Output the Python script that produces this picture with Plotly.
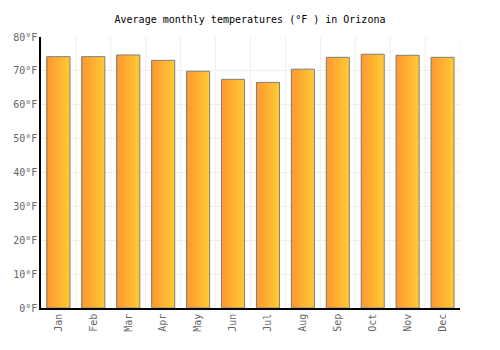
import plotly.graph_objects as go

months = ["Jan", "Feb", "Mar", "Apr", "May", "Jun", "Jul", "Aug", "Sep", "Oct", "Nov", "Dec"]
temps_f = [74.2, 74.2, 74.7, 73.1, 69.9, 67.5, 66.6, 70.5, 74.0, 74.9, 74.6, 74.0]
y_ticks = [0, 10, 20, 30, 40, 50, 60, 70, 80]
y_tick_labels = [f"{t}°F" for t in y_ticks]

bar_w = 0.66
n_slices = 16
c0 = (255, 152, 50)
c1 = (255, 200, 50)

fig = go.Figure()
x_idx = list(range(len(months)))
for i in range(n_slices):
    t = i / (n_slices - 1)
    col = "rgb({},{},{})".format(*[round(a + (b - a) * t) for a, b in zip(c0, c1)])
    fig.add_trace(go.Bar(
        x=x_idx, y=temps_f, width=bar_w / n_slices * 1.05,
        offset=-bar_w / 2 + i * bar_w / n_slices,
        marker=dict(color=col, line=dict(width=0)),
        hoverinfo="skip", showlegend=False,
    ))
fig.add_trace(go.Bar(
    x=x_idx, y=temps_f, width=bar_w, offset=-bar_w / 2,
    marker=dict(color="rgba(0,0,0,0)", line=dict(color="#808080", width=1)),
    showlegend=False, name="Temperature",
))

fig.update_layout(
    width=500, height=350,
    margin=dict(l=41, r=40, t=37, b=42),
    paper_bgcolor="white", plot_bgcolor="white",
    barmode="overlay",
    title=dict(text="Average monthly temperatures (°F ) in Orizona",
               x=0.5, xanchor="center", y=0.944, yanchor="middle",
               font=dict(family="DejaVu Sans Mono", size=10, color="black")),
    font=dict(family="DejaVu Sans Mono", size=10, color="#666666"),
)
fig.update_xaxes(
    range=[-0.5, 11.5], tickmode="array", tickvals=x_idx, ticktext=months,
    tickangle=-90, showgrid=False, showline=True, linecolor="black", linewidth=1.5,
    ticks="", ticklen=0,
)
# vertical grid at category boundaries
for b in [i + 0.5 for i in range(-1, 12)]:
    fig.add_shape(type="line", xref="x", yref="paper", x0=b, x1=b, y0=0, y1=1,
                  line=dict(color="#eeeeee", width=1), layer="below")
fig.update_yaxes(
    range=[0, 80], tickmode="array", tickvals=y_ticks, ticktext=y_tick_labels,
    showgrid=True, gridcolor="#eeeeee", gridwidth=1, showline=True, linecolor="black",
    linewidth=1.5, zeroline=False, ticks="", ticklen=0,
)
fig.write_html("out.html")
